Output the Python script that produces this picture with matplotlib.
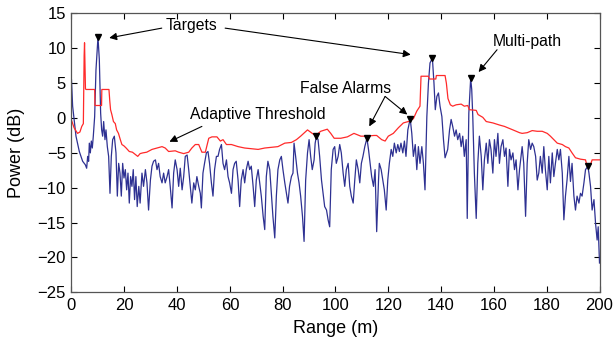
import matplotlib
matplotlib.use("Agg")
import matplotlib.pyplot as plt

plt.rcParams['font.family'] = ['Liberation Sans', 'DejaVu Sans']

# received power (blue)
rng = [0.0, 0.44, 1.71, 2.97, 4.23, 5.24, 5.75, 6.13, 6.5, 6.76, 7.14, 7.52, 7.89, 8.27, 8.78, 9.28,
       10.04, 10.55, 11.05, 11.43, 11.81, 12.19, 12.69, 13.07, 13.58, 14.08, 14.59, 15.09, 15.6, 16.23,
       16.86, 17.37, 17.87, 18.38, 18.88, 19.39, 19.89, 20.4, 20.9, 21.4, 21.9, 22.4, 22.9, 23.4, 23.9,
       24.4, 24.9, 25.5, 26.0,
       26.7, 27.3, 28.0, 28.6, 29.2, 29.9, 30.5, 31.1, 31.8, 32.4, 33.0, 33.6, 34.3, 34.9, 35.5, 36.2,
       36.8, 37.4, 38.1, 38.7, 39.3, 40.0, 40.6, 41.2, 41.9, 42.5, 43.1, 43.8, 44.4, 45.0, 45.6, 46.3,
       46.9, 47.5, 48.2, 48.8, 49.2, 49.8, 50.4, 51.1, 51.7, 52.3, 53.0, 53.6, 54.2, 54.9,
       55.5, 56.1, 56.8, 57.4, 58.0, 58.7, 59.3, 59.9, 60.6, 61.2, 61.8, 62.4, 63.1, 63.7, 64.3, 65.0,
       65.6, 66.2, 66.9, 67.5, 68.1, 68.8, 69.4, 70.0, 70.7, 71.3, 71.9, 72.6, 73.2, 73.8, 74.4, 75.1,
       75.7, 76.3, 77.0, 77.6, 78.2, 78.9, 79.5, 80.1, 80.8, 81.4, 82.0, 82.6, 83.3, 83.9,
       84.3, 84.9, 85.6, 86.2, 86.8, 87.5, 88.1, 88.7, 89.4, 90.0, 90.6, 91.2, 91.9, 92.3, 92.8, 93.4,
       94.0, 94.7, 95.3, 95.9, 96.6, 97.2, 97.8, 98.4, 99.1, 99.7, 100.3, 101.0, 101.6, 102.2, 102.9,
       103.5, 104.1, 104.8, 105.4, 106.0, 106.7, 107.3, 107.9, 108.6, 109.2, 109.8, 110.4, 111.1,
       111.9, 112.5,
       113.1, 113.7, 114.4, 115.0, 115.6, 116.3, 116.6, 117.3, 117.9, 118.5, 119.2, 119.8, 120.4,
       121.1, 121.7, 122.3, 123.0, 123.6, 124.2, 124.8, 125.5, 126.1, 126.7, 127.4, 128.3, 128.9,
       129.5, 130.2, 130.8, 131.4, 132.0, 132.7, 133.3, 133.9, 134.6, 135.2, 135.8, 136.7, 137.3,
       137.8, 138.4, 139.0, 139.6, 140.3, 140.9, 141.5,
       142.5, 143.2, 143.8, 144.4, 145.1, 145.7, 146.3, 147.0, 147.6, 148.2, 148.8, 149.5, 149.9,
       150.5, 151.2, 151.6, 152.0, 152.6, 153.3, 153.9, 154.5, 155.2, 155.8, 156.4, 157.1, 157.7,
       158.3, 158.9, 159.6, 160.2, 160.8, 161.5, 162.1, 162.7, 163.4, 164.0, 164.6, 165.3, 165.9,
       166.5, 167.2, 167.8, 168.4, 169.1, 169.7,
       170.7, 171.3, 172.0, 172.6, 173.2, 173.9, 174.5, 175.1, 175.8, 176.4, 177.0, 177.6, 178.3,
       178.9, 179.5, 180.2, 180.8, 181.4, 182.1, 182.7, 183.3, 184.0, 184.6, 185.2, 185.9, 186.5,
       187.1, 187.7, 188.4, 189.0, 189.6, 190.3, 190.9, 191.5, 192.2, 192.8, 193.4, 194.1, 194.7,
       195.6, 196.0, 196.6, 197.2, 197.9, 198.5, 199.1, 199.5, 200.0]
power = [5.5, 1.7, -2.6, -4.8, -6.2, -6.7, -7.2, -5.5, -6.2, -3.6, -5.0, -3.3, -4.3, -2.6, 0.2, 6.9,
         11.6, 8.4, 0.7, -1.7, -2.6, -0.5, -3.1, -1.7, -4.1, -5.5, -10.8, -5.5, -3.1, -2.6,
         -5.0, -11.2, -6.5, -7.9, -11.2, -6.5, -8.6, -7.4, -10.3, -7.9, -12.2, -8.4, -9.8, -7.4, -11.7,
         -8.4, -12.7, -9.8, -12.2,
         -7.9, -9.8, -7.4, -9.3, -13.2, -8.9, -6.9, -6.2, -6.0, -7.4, -6.5, -8.4, -9.3, -7.9, -9.3, -8.4,
         -7.4, -9.8, -12.9, -7.9, -6.0, -7.4, -9.8, -7.2, -10.3, -8.4, -5.5, -5.3, -7.4, -9.8, -12.2, -9.3,
         -10.3, -8.4, -9.8, -10.8, -12.9, -7.9, -6.5, -5.0, -4.8, -6.5, -9.3, -11.2, -7.4, -5.5,
         -5.5, -4.5, -3.8, -6.5, -7.4, -6.0, -8.4, -9.3, -10.8, -7.4, -6.5, -6.2, -8.9, -12.7, -8.9, -7.4,
         -9.3, -7.4, -6.2, -7.4, -6.9, -9.8, -12.7, -8.9, -7.4, -9.3, -11.2, -14.1, -16.0, -8.4, -6.2, -7.4,
         -10.8, -14.1, -17.2, -11.2, -7.4, -6.0, -5.5, -7.4, -9.3, -10.8, -12.2, -9.8, -8.4, -7.9,
         -3.6, -5.5, -7.9, -9.3, -11.2, -14.1, -17.7, -8.9, -5.0, -3.1, -5.5, -7.4, -6.0, -3.6, -2.6, -3.1,
         -5.5, -8.9, -10.8, -12.7, -13.2, -14.6, -15.6, -7.4, -4.5, -4.1, -6.5, -5.5, -3.8, -5.0, -7.9,
         -9.8, -7.4, -6.5, -9.8, -11.2, -12.2, -8.9, -6.0, -7.4, -9.3, -6.5, -5.5, -4.1,
         -2.9, -4.5,
         -6.5, -8.4, -9.8, -7.4, -16.3, -8.9, -6.5, -7.4, -8.9, -10.3, -13.2, -8.9, -6.5,
         -4.5, -5.5, -3.6, -5.0, -3.8, -4.8, -3.6, -5.0, -3.3, -5.5, -1.7, -0.1, -2.2,
         -5.5, -3.8, -7.4, -4.1, -6.5, -4.1, -6.5, -10.3, 0.2, 5.0, 7.9, 8.6, 5.0,
         1.2, 3.1, 3.6, 1.7, 0.2, -3.1, -5.7,
         -4.5, -1.7, -0.2, -1.2, -2.6, -1.7, -3.1, -2.2, -4.1, -2.6, -5.5, -3.1, -14.4,
         0.7, 5.7, 4.1, 0.2, -7.9, -14.4, -6.5, -2.6, -5.5, -10.3, -6.0, -3.6, -6.5,
         -3.1, -4.5, -7.9, -3.1, -5.5, -2.2, -6.5, -4.1, -3.1, -5.5, -4.3, -9.8, -4.5,
         -6.0, -5.0, -7.4, -6.0, -10.3, -7.4,
         -4.1, -6.5, -14.1, -6.5, -3.1, -4.5, -3.6, -4.1, -5.5, -8.9, -7.9, -5.5, -7.9,
         -4.1, -7.4, -10.3, -5.5, -9.3, -5.0, -8.4, -6.5, -4.5, -6.0, -4.5, -7.9, -14.6,
         -11.2, -8.9, -5.5, -9.1, -6.5, -11.2, -13.2, -11.2, -12.2, -10.8, -11.2, -9.3, -7.4,
         -6.9, -7.9, -9.8, -13.2, -11.7, -15.1, -17.5, -15.6, -20.8]

# adaptive threshold (red)
thr_rng = [0.0, 1.0, 2.3, 3.2, 3.9, 4.5, 4.8, 4.95, 5.3, 5.5,
           8.8, 8.9, 11.4, 11.5, 14.2, 14.5, 14.8, 15.3, 15.9, 16.6,
           17.1, 17.8, 18.5, 19.1, 19.9, 20.7, 21.9, 23.1, 24.4, 25.1,
           26.0, 27.0, 28.5, 30.5, 32.4, 34.3, 35.5, 36.8, 39.3, 40.6,
           42.5, 44.4, 45.6, 46.9, 48.2, 49.4, 50.7, 52.0, 53.2, 55.1,
           56.4, 57.4, 58.7, 60.6, 63.1, 65.6, 68.1, 70.7, 73.2, 75.7,
           78.2, 80.8, 83.3, 85.2, 86.8, 89.4, 91.2, 92.5, 94.4, 96.9,
           98.2, 99.5, 102.0, 104.5, 107.0, 109.6, 111.5, 114.6, 115.6, 117.5,
           118.8, 120.0, 121.9, 123.8, 125.7, 127.6, 129.5, 130.8, 132.0, 132.4,
           135.2, 135.6, 138.0, 138.2, 141.5, 142.0, 142.6, 143.5, 144.4, 145.7,
           147.6, 148.8, 150.1, 150.7, 153.3, 154.0, 155.8, 157.1, 159.6, 162.1,
           164.0, 165.3, 167.2, 169.7, 170.7, 172.6, 174.5, 176.4, 178.3, 180.2,
           181.4, 182.7, 184.0, 185.9, 187.1, 188.4, 189.6, 190.9, 192.8, 194.7,
           195.3, 196.6, 197.2, 200.0]
thr = [-0.3, -1.4, -2.2, -2.0, -1.2, -0.8, 9.0, 10.8, 4.2, 4.1,
       4.1, 1.8, 1.8, 4.1, 4.1, 2.5, 1.2, 0.5, -0.5, -0.8,
       -1.7, -2.2, -3.1, -3.8, -4.0, -4.3, -4.8, -4.9, -5.3, -5.5,
       -5.1, -5.0, -4.9, -4.5, -4.3, -4.1, -4.3, -4.8, -4.7, -4.9,
       -5.1, -4.9, -4.3, -3.8, -3.8, -4.9, -4.9, -2.9, -2.7, -2.7,
       -3.3, -3.1, -3.8, -3.8, -4.1, -4.3, -4.4, -4.5, -4.3, -4.2,
       -4.1, -3.6, -3.5, -3.1, -2.6, -1.7, -2.2, -2.5, -1.9, -1.6,
       -2.2, -2.9, -2.9, -2.7, -2.2, -2.6, -2.6, -2.5, -2.5, -3.1,
       -3.3, -2.6, -2.2, -1.4, -0.7, -0.5, -0.1, 1.0, 1.7, 6.0,
       6.0, 5.6, 5.6, 6.1, 6.1, 5.0, 2.8, 1.9, 1.7, 1.9,
       2.0, 1.7, 1.8, 1.2, 1.1, 0.5, 0.1, -0.5, -0.7, -1.0,
       -1.2, -1.4, -1.7, -2.1, -2.2, -2.1, -1.8, -1.9, -1.9, -2.2,
       -2.6, -3.1, -3.6, -3.8, -4.1, -4.3, -5.0, -5.7, -5.9, -6.0,
       -6.9, -6.7, -6.0, -6.0]

# detections (black triangles)
det_rng = [10.0, 92.8, 111.9, 128.3, 136.7, 151.2, 195.6]
det_pow = [11.6, -2.6, -2.9, -0.1, 8.6, 5.7, -6.9]

fig = plt.figure(figsize=(6.14, 3.46), dpi=100)
ax = fig.add_axes([0.1164, 0.1552, 0.86, 0.8058])

ax.plot(rng, power, color='#2e3192', lw=0.9)
ax.plot(thr_rng, thr, color='#ff2a2a', lw=0.9)
ax.plot(det_rng, det_pow, 'v', color='k', ms=5)

ax.set_xlim(0, 200)
ax.set_ylim(-25, 15)
ax.set_xticks(range(0, 201, 20))
ax.set_yticks(range(-25, 16, 5))
ax.tick_params(direction='in', top=True, right=True, labelsize=12, length=4, width=0.8, pad=4)
for sp in ax.spines.values():
    sp.set_color('#555555')
    sp.set_linewidth(0.9)
ax.set_xlabel('Range (m)', fontsize=13, labelpad=5)
ax.set_ylabel('Power (dB)', fontsize=13, labelpad=9)

arr = dict(arrowstyle='-|>', color='k', lw=0.8, mutation_scale=11, shrinkA=0, shrinkB=0)
fs = 11.3

ax.text(45.3, 13.3, 'Targets', fontsize=fs, ha='center', va='center')
ax.annotate('', xy=(14.3, 11.5), xytext=(34.2, 12.9), arrowprops=arr)
ax.annotate('', xy=(128.5, 9.1), xytext=(58.2, 12.9), arrowprops=arr)

ax.text(70.7, 0.5, 'Adaptive Threshold', fontsize=fs, ha='center', va='center')
ax.annotate('', xy=(37.1, -3.4), xytext=(49.4, -1.2), arrowprops=arr)

ax.text(103.8, 4.3, 'False Alarms', fontsize=fs, ha='center', va='center')
ax.annotate('', xy=(112.8, -1.2), xytext=(118.8, 3.1), arrowprops=arr)
ax.annotate('', xy=(127.2, 0.5), xytext=(118.8, 3.1), arrowprops=arr)

ax.text(172.6, 11.0, 'Multi-path', fontsize=fs, ha='center', va='center')
ax.annotate('', xy=(154.2, 6.6), xytext=(161.2, 9.8), arrowprops=arr)

fig.savefig('out.png', dpi=100)
